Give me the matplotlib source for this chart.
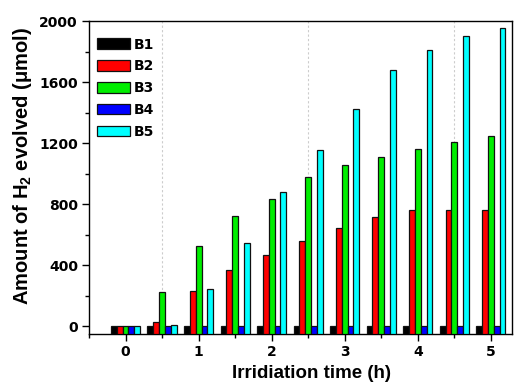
import matplotlib
matplotlib.use("Agg")
import matplotlib.pyplot as plt
import numpy as np
from matplotlib.ticker import MultipleLocator

plt.rcParams['font.family'] = ['Liberation Sans', 'DejaVu Sans']
plt.rcParams['font.weight'] = 'bold'
plt.rcParams['mathtext.fontset'] = 'custom'
plt.rcParams['mathtext.rm'] = 'Liberation Sans:bold'
plt.rcParams['mathtext.it'] = 'Liberation Sans:bold'
plt.rcParams['mathtext.bf'] = 'Liberation Sans:bold'

times = [0, 0.5, 1, 1.5, 2, 2.5, 3, 3.5, 4, 4.5, 5]
series_names = ['B1', 'B2', 'B3', 'B4', 'B5']
B1 = [0, 0, 0, 0, 0, 0, 0, 0, 0, 0, 0]
B2 = [0, 30, 229, 370, 470, 558, 647, 717, 763, 763, 763]
B3 = [0, 222, 529, 725, 832, 978, 1057, 1109, 1159, 1207, 1244]
B4 = [0, 0, 0, 0, 0, 0, 0, 0, 0, 0, 0]
B5 = [0, 12, 246, 549, 882, 1155, 1425, 1678, 1808, 1904, 1956]
colors = ['#000000', '#ff0000', '#00ee00', '#0000ff', '#00ffff']

baseline = -50
fig = plt.figure(figsize=(5.14, 3.89), dpi=100)
ax = fig.add_axes([89/514, 1-334/389, 423/514, 313/389])

w = 0.08
x = np.array(times)
for i, (name, vals, c) in enumerate(zip(series_names, [B1, B2, B3, B4, B5], colors)):
    v = np.array(vals, dtype=float)
    ax.bar(x + (i - 2) * w, v - baseline, bottom=baseline, width=w, color=c,
           edgecolor='#111111', linewidth=0.9, label=name, zorder=3)

ax.set_xlim(-0.5, 5.29)
ax.set_ylim(baseline, 2000)
ax.set_xticks([0, 1, 2, 3, 4, 5])
ax.xaxis.set_minor_locator(MultipleLocator(0.5))
ax.set_yticks([0, 400, 800, 1200, 1600, 2000])
ax.yaxis.set_minor_locator(MultipleLocator(200))
for gx in [0.5, 2.5, 4.5]:
    ax.axvline(gx, color='#cccccc', linestyle=(0, (2, 2)), linewidth=0.8, zorder=1)

ax.tick_params(which='both', direction='out', top=False, right=False, width=1)
ax.tick_params(which='major', length=5, pad=3)
ax.tick_params(which='minor', length=3)
for lab in ax.get_xticklabels() + ax.get_yticklabels():
    lab.set_fontweight('bold')
    lab.set_fontfamily('DejaVu Sans')
    lab.set_fontsize(10)
for s in ax.spines.values():
    s.set_linewidth(1.0)

ax.set_xlabel('Irridiation time (h)', fontsize=13.5, fontweight='bold')
ax.xaxis.set_label_coords(0.525, -0.1)
ax.set_ylabel(r'Amount of H$_2$ evolved ($\mu$mol)', fontsize=14.5, fontweight='bold')
ax.yaxis.set_label_coords(-0.13, 0.537)

leg = ax.legend(loc='upper left', bbox_to_anchor=(-0.005, 0.978), frameon=False,
                handlelength=2.4, handleheight=0.8, labelspacing=0.56,
                handletextpad=0.3, borderaxespad=0.3, borderpad=0.4,
                prop={'family': 'DejaVu Sans', 'weight': 'bold', 'size': 10})

fig.savefig('out.png', dpi=100)
